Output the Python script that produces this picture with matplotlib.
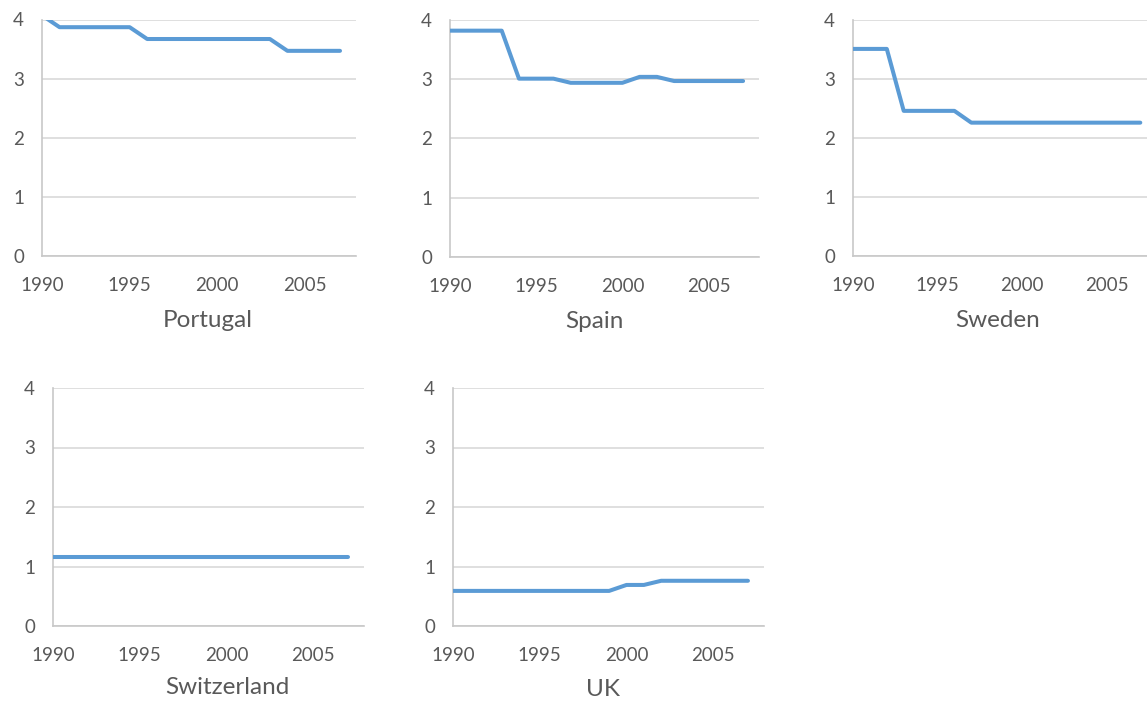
import matplotlib.pyplot as plt

years = list(range(1990, 2008))
portugal = [4.07, 3.87, 3.87, 3.87, 3.87, 3.87, 3.67, 3.67, 3.67,
            3.67, 3.67, 3.67, 3.67, 3.67, 3.47, 3.47, 3.47, 3.47]
spain = [3.82, 3.82, 3.82, 3.82, 3.01, 3.01, 3.01, 2.94, 2.94,
         2.94, 2.94, 3.04, 3.04, 2.97, 2.97, 2.97, 2.97, 2.97]
sweden = [3.51, 3.51, 3.51, 2.46, 2.46, 2.46, 2.46, 2.26, 2.26,
          2.26, 2.26, 2.26, 2.26, 2.26, 2.26, 2.26, 2.26, 2.26]
switzerland = [1.16] * 18
uk = [0.59, 0.59, 0.59, 0.59, 0.59, 0.59, 0.59, 0.59, 0.59,
      0.59, 0.69, 0.69, 0.76, 0.76, 0.76, 0.76, 0.76, 0.76]

countries = ["Portugal", "Spain", "Sweden", "Switzerland", "UK"]
series = [portugal, spain, sweden, switzerland, uk]
x_ticks = [1990, 1995, 2000, 2005]
y_ticks = [0, 1, 2, 3, 4]

W, H = 1147, 701
plt.rcParams['font.family'] = ['Lato', 'DejaVu Sans']
fig = plt.figure(figsize=(W / 100, H / 100), dpi=100)

# panel layout in pixels: left, top, bottom, px per year, title x, title y
panels = [
    (42, 19.5, 256, 17.53, 208, 320),
    (450, 20, 257, 17.24, 594, 321),
    (853, 20, 256, 16.9, 998, 320),
    (53, 388, 626, 17.35, 227, 688),
    (453, 388, 626, 17.35, 603, 690),
]
xmax = 17.9
text_col = '#595959'
grid_col = '#D9D9D9'

for name, vals, (left, top, bottom, py, tx, ty) in zip(countries, series, panels):
    width = py * xmax
    ax = fig.add_axes([left / W, 1 - bottom / H, width / W, (bottom - top) / H])
    ax.plot(years, vals, color='#5B9BD5', lw=2.9,
            solid_capstyle='round', solid_joinstyle='round', zorder=3)
    ax.set_xlim(1990, 1990 + xmax)
    ax.set_ylim(0, 4)
    ax.set_xticks(x_ticks)
    ax.set_yticks(y_ticks)
    ax.grid(axis='y', color=grid_col, lw=1.2)
    ax.set_axisbelow(True)
    for s in ['top', 'right']:
        ax.spines[s].set_visible(False)
    for s in ['left', 'bottom']:
        ax.spines[s].set_color('#C8C8C8')
        ax.spines[s].set_linewidth(1.2)
    ax.tick_params(axis='x', length=0, pad=15, labelsize=13.5, labelcolor=text_col)
    ax.tick_params(axis='y', length=0, pad=13, labelsize=13.5, labelcolor=text_col)
    fig.text(tx / W, 1 - ty / H, name, ha='center', va='center',
             fontsize=17.5, color=text_col)

fig.savefig('out.png', dpi=100)
